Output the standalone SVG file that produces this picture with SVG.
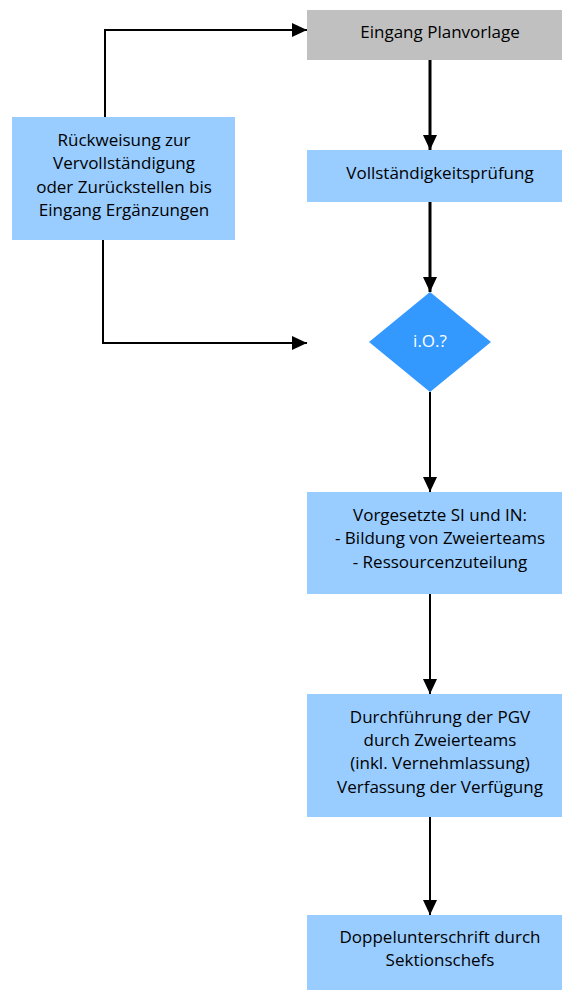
<svg xmlns="http://www.w3.org/2000/svg" width="562" height="990" viewBox="0 0 562 990">
<style>
.t{font-family:"Open Sans","Liberation Sans",Arial,sans-serif;font-size:17px;fill:#000;text-anchor:middle}
.w{fill:#fff}
.bl{fill:#99ccff}
.ln{fill:none;stroke:#000;stroke-width:2}
.th{stroke-width:3}
</style>
<defs>
<marker id="ah" markerUnits="userSpaceOnUse" markerWidth="16" markerHeight="14" refX="15" refY="7" orient="auto">
<path d="M0,0 L15,7 L0,14 Z" fill="#000"/>
</marker>
</defs>
<rect width="562" height="990" fill="#fff"/>
<g id="n1"><rect x="307" y="10" width="266" height="50" fill="#c0c0c0"/><text class="t" x="440" y="38">Eingang Planvorlage</text></g>
<g id="n2"><rect class="bl" x="307" y="150" width="266" height="52"/><text class="t" x="440" y="179">Vollständigkeitsprüfung</text></g>
<g id="n3"><path d="M430,292 L491,342 L430,392 L369,342 Z" fill="#3399ff"/><text class="t w" x="430" y="347" font-size="15">i.O.?</text></g>
<g id="n4"><rect class="bl" x="12" y="117" width="223" height="123"/>
<text class="t" x="124" y="146">Rückweisung zur</text>
<text class="t" x="124" y="169">Vervollständigung</text>
<text class="t" x="124" y="193">oder Zurückstellen bis</text>
<text class="t" x="124" y="216">Eingang Ergänzungen</text></g>
<g id="n5"><rect class="bl" x="307" y="492" width="266" height="102"/>
<text class="t" x="440" y="521">Vorgesetzte SI und IN:</text>
<text class="t" x="440" y="544">- Bildung von Zweierteams</text>
<text class="t" x="440" y="568">- Ressourcenzuteilung</text></g>
<g id="n6"><rect class="bl" x="307" y="694" width="266" height="123"/>
<text class="t" x="440" y="723">Durchführung der PGV</text>
<text class="t" x="440" y="746">durch Zweierteams</text>
<text class="t" x="440" y="769">(inkl. Vernehmlassung)</text>
<text class="t" x="440" y="793">Verfassung der Verfügung</text></g>
<g id="n7"><rect class="bl" x="307" y="915" width="266" height="80"/>
<text class="t" x="440" y="943">Doppelunterschrift durch</text>
<text class="t" x="440" y="966">Sektionschefs</text></g>
<g id="connectors">
<path class="ln th" d="M430,60 V150" marker-end="url(#ah)"/>
<path class="ln th" d="M430,202 V292" marker-end="url(#ah)"/>
<path class="ln" d="M430,392 V492" marker-end="url(#ah)"/>
<path class="ln" d="M430,594 V694" marker-end="url(#ah)"/>
<path class="ln" d="M430,817 V915" marker-end="url(#ah)"/>
<path class="ln" d="M105,117 V30 H307" marker-end="url(#ah)"/>
<path class="ln" d="M103,240 V343 H307" marker-end="url(#ah)"/>
</g>
</svg>
